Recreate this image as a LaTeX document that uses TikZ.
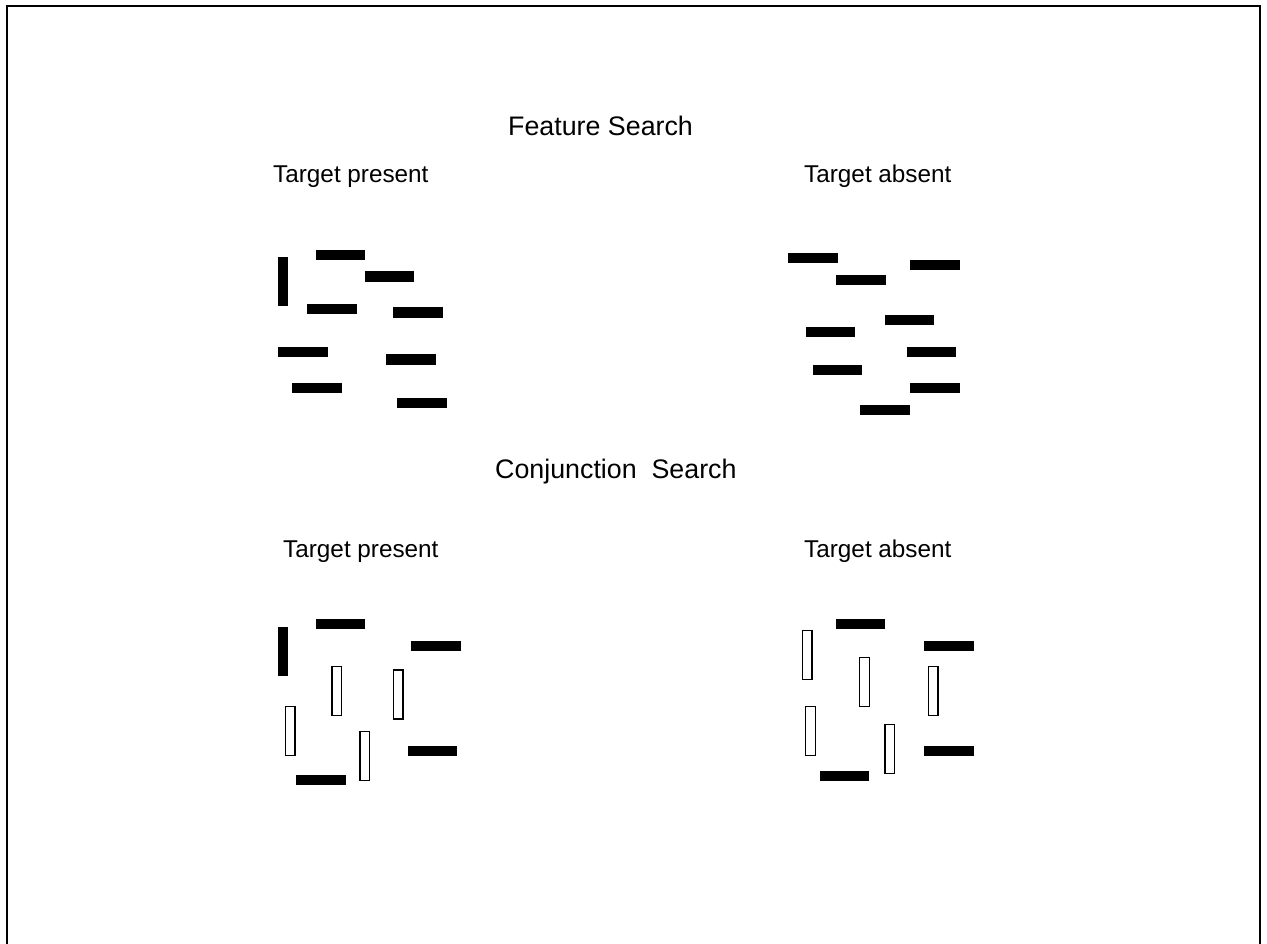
\documentclass[tikz,border=0pt]{standalone}
\usepackage{fontspec}
\setmainfont{Liberation Sans}
\begin{document}
\begin{tikzpicture}[x=1pt,y=-1pt,
  hbar/.style={rectangle,fill=black,minimum width=49.5pt,minimum height=10.2pt,inner sep=0pt},
  vbar/.style={rectangle,fill=black,minimum width=10.2pt,minimum height=49.5pt,inner sep=0pt},
  hollow/.style={rectangle,draw=black,line width=1.4pt,fill=white,minimum width=9.6pt,minimum height=49pt,inner sep=0pt},
  title/.style={anchor=base west,inner sep=0pt,font=\fontsize{26.8}{30}\selectfont},
  label/.style={anchor=base west,inner sep=0pt,font=\fontsize{24.3}{28}\selectfont}]
\useasboundingbox (0,0) rectangle (1267,944);
% open frame (its lower edge lies below the page)
\draw[line width=2pt] (7,960) -- (7,6) -- (1259.5,6) -- (1259.5,960);

% headings
\node[title] (fs) at (508,135.5) {Feature Search};
\node[title] (cs) at (495,478.5) {Conjunction\ \ Search};
\node[label] (fsp) at (273,182.5) {Target present};
\node[label] (fsa) at (804,182.5) {Target absent};
\node[label] (csp) at (283,557.5) {Target present};
\node[label] (csa) at (804,557.5) {Target absent};

% feature search, target present
\node[vbar] (fp0) at (283,281.7) {};
\node[hbar] (fp1) at (340.7,254.7) {};
\node[hbar] (fp2) at (389.3,276.5) {};
\node[hbar] (fp3) at (332,308.8) {};
\node[hbar] (fp4) at (418.2,312.5) {};
\node[hbar] (fp5) at (302.8,352.2) {};
\node[hbar] (fp6) at (411.2,359.5) {};
\node[hbar] (fp7) at (317,388.3) {};
\node[hbar] (fp8) at (421.8,402.8) {};

% feature search, target absent
\node[hbar] (fa1) at (813,258.2) {};
\node[hbar] (fa2) at (860.8,279.7) {};
\node[hbar] (fa3) at (935,265.3) {};
\node[hbar] (fa4) at (909.7,319.8) {};
\node[hbar] (fa5) at (830.5,331.7) {};
\node[hbar] (fa6) at (931.3,352.3) {};
\node[hbar] (fa7) at (837.5,370.3) {};
\node[hbar] (fa8) at (935,388.3) {};
\node[hbar] (fa9) at (885,410) {};

% conjunction search, target present
\node[vbar] (cp0) at (283,651.3) {};
\node[hbar] (cp1) at (340.5,624.3) {};
\node[hbar] (cp2) at (436.2,646.2) {};
\node[hbar] (cp3) at (432.5,750.7) {};
\node[hbar] (cp4) at (320.8,779.7) {};
\node[hollow] (cp5) at (336.7,691.2) {};
\node[hollow] (cp6) at (398.3,694.5) {};
\node[hollow] (cp7) at (290,730.8) {};
\node[hollow] (cp8) at (364.8,756) {};

% conjunction search, target absent
\node[hbar] (ca1) at (860.5,624.3) {};
\node[hbar] (ca2) at (949.2,646.2) {};
\node[hbar] (ca3) at (949.2,750.7) {};
\node[hbar] (ca4) at (844.7,776.3) {};
\node[hollow] (ca5) at (807.3,655) {};
\node[hollow] (ca6) at (864.5,681.8) {};
\node[hollow] (ca7) at (933,690.8) {};
\node[hollow] (ca8) at (810.5,730.8) {};
\node[hollow] (ca9) at (889.7,748.8) {};
\end{tikzpicture}
\end{document}
